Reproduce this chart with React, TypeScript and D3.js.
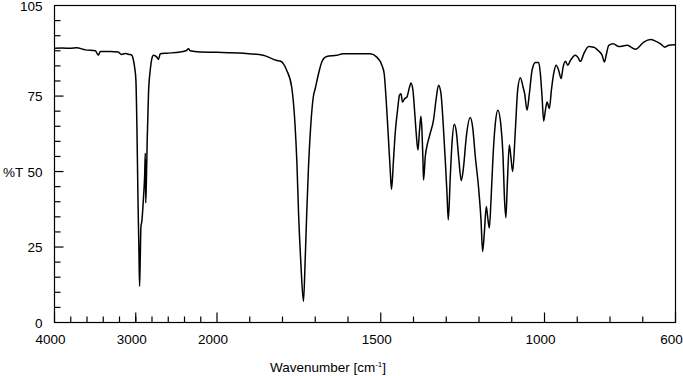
import React from "react";
import * as d3 from "d3";

const wavenumbers = [
  4000, 3902, 3804, 3730, 3620, 3497, 3460, 3436, 3313, 3215, 3178, 3129, 3080, 3047, 3031, 3012, 2998, 2985, 2973, 2961, 2953, 2945, 2936, 2926, 2904, 2890, 2883, 2877, 2869, 2859, 2843, 2822, 2801, 2782, 2740, 2720, 2699, 2617, 2454, 2380, 2352, 2331, 2209, 2000,
  1920, 1859, 1817, 1807, 1787, 1772, 1762, 1756, 1751, 1744, 1736, 1731, 1726, 1721, 1714, 1706, 1700, 1690, 1680, 1665, 1634, 1615, 1554, 1532, 1512,
  1496.5, 1489.5, 1483.4, 1476.3, 1471.1, 1467.2, 1461.1, 1455.9, 1448.8, 1442.7, 1438.4, 1433.5, 1427.4, 1420.1, 1412.1, 1407.9, 1401.7, 1396.8, 1391.7, 1386.5, 1381.6, 1377.3, 1374.2, 1371.2, 1369.3, 1364.1, 1357.1, 1348.9, 1338.8, 1331.4, 1323.5,
  1316.1, 1310, 1303, 1297.8, 1293.8, 1287.7, 1282.5, 1275.5, 1269.4, 1262.3, 1254.1, 1247.1, 1238.8, 1226.6, 1219.5, 1211.3, 1201.2, 1193.9, 1189, 1183.8, 1177.7, 1173.7, 1168.5, 1163.3, 1157.2, 1150.2, 1142.5,
  1132.7, 1126.6, 1122.6, 1118, 1113.5, 1107.4, 1102.8, 1097.3, 1089, 1082, 1073.7, 1065.5, 1060.6, 1053.3, 1046.2, 1038, 1027.9, 1017.8, 1012.6, 1007.4, 1002.5, 997.3, 992.1, 985.1, 979, 972, 964.6, 956.6, 949.3, 943.2, 936.2, 929.1, 920.9, 905.6, 898.6, 890.3, 880.2, 865, 849.6, 834.4, 824, 817, 810.8, 803.8, 790.3, 773.2, 747.5, 722.2, 696.8, 676.3, 661, 645.7, 632.6, 620.4, 605.1, 600,
];

const transmittance = [
  90.8, 90.9, 90.8, 91.0, 90.3, 90.0, 88.5, 89.8, 89.8, 89.6, 88.8, 89.1, 88.8, 88.5, 87.2, 84.2, 80.2, 63.7, 41.6, 24.1, 12.0, 20.8, 31.8, 33.3, 41.7, 48.9, 56.1, 39.6, 47.2, 60.4, 75.9, 83.5, 87.5, 88.5, 87.9, 87.1, 89.0, 89.2, 89.6, 90.0, 90.7, 90.0, 89.6, 89.5,
  89.2, 88.5, 86.8, 86.6, 83.5, 78.0, 66.0, 52.8, 36.3, 19.8, 7.0, 19.8, 36.3, 50.5, 64.8, 74.7, 77.5, 82.4, 86.3, 88.1, 88.5, 89.0, 89.0, 89.0, 87.9,
  85.2, 82.4, 73.6, 60.5, 50.5, 44.1, 53.8, 62.7, 70.3, 75.3, 75.8, 73.0, 74.1, 74.7, 78.0, 79.3, 76.9, 70.3, 62.7, 57.1, 63.7, 68.3, 63.7, 53.8, 47.2, 54.9, 59.3, 62.7, 67.1, 73.6, 78.6,
  75.8, 67.0, 53.8, 42.9, 34.0, 48.3, 59.3, 65.7, 63.3, 55.0, 47.0, 51.6, 61.5, 67.9, 64.8, 55.0, 44.5, 34.0, 23.5, 29.6, 38.4, 35.1, 31.3, 40.6, 55.0, 65.9, 70.3,
  64.8, 55.0, 42.0, 34.7, 46.0, 58.8, 55.0, 50.0, 63.7, 76.9, 81.1, 78.0, 75.8, 70.3, 75.8, 83.5, 86.1, 86.1, 82.4, 74.7, 66.7, 70.3, 73.0, 70.9, 76.9, 82.4, 85.2, 83.5, 80.8, 84.6, 86.5, 85.2, 86.8, 88.5, 87.9, 86.5, 89.0, 91.4, 91.2, 89.9, 88.5, 86.3, 89.0, 91.8, 92.3, 91.4, 91.8, 90.5, 92.9, 93.7, 93.2, 92.3, 91.2, 91.8, 92.0, 92.0,
];

const xMajorTicks = [4000, 3000, 2000, 1500, 1000, 600];
const xMajorLabels = ["4000", "3000", "2000", "1500", "1000", "600"];
const yMajorTicks = [0, 25, 50, 75, 105];
const yMajorLabels = ["0", "25", "50", "75", "105"];

const W = 683;
const H = 376;
const left = 54.5;
const right = 675.5;
const top = 5.5;
const bottom = 322.5;

export default function App() {
  const x = d3.scaleLinear().domain([4000, 2000, 600]).range([left, 217, right]);
  const y = d3.scaleLinear().domain([0, 105]).range([bottom, top]);

  const pts: [number, number][] = wavenumbers.map((w, i) => [x(w), y(transmittance[i])]);
  const line = d3
    .line<[number, number]>()
    .x((d) => d[0])
    .y((d) => d[1])
    .curve(d3.curveMonotoneX);

  const minorX: number[] = [];
  for (let w = 3800; w > 2000; w -= 200) minorX.push(w);
  for (let w = 1900; w > 600; w -= 100) if (w !== 1500 && w !== 1000) minorX.push(w);
  const minorY: number[] = [];
  for (let v = 5; v < 105; v += 5) if (![25, 50, 75].includes(v)) minorY.push(v);

  const font = "Liberation Sans, Arial, sans-serif";

  return (
    <svg width={W} height={H} style={{ position: "absolute", left: 0, top: 0, background: "#fff" }}>
      <rect x={left} y={top} width={right - left} height={bottom - top} fill="none" stroke="#000" strokeWidth={1.2} />
      {minorX.map((w) => (
        <line key={"mx" + w} x1={x(w)} x2={x(w)} y1={bottom} y2={bottom - 6} stroke="#000" strokeWidth={1.2} />
      ))}
      {xMajorTicks.map((w) => (
        <line key={"Mx" + w} x1={x(w)} x2={x(w)} y1={bottom} y2={bottom - 10} stroke="#000" strokeWidth={1.2} />
      ))}
      {minorY.map((v) => (
        <line key={"my" + v} x1={left} x2={left + 6} y1={y(v)} y2={y(v)} stroke="#000" strokeWidth={1.2} />
      ))}
      {[25, 50, 75].map((v) => (
        <line key={"My" + v} x1={left} x2={left + 9} y1={y(v)} y2={y(v)} stroke="#000" strokeWidth={1.2} />
      ))}
      {xMajorTicks.map((w, i) => (
        <text key={"lx" + w} x={x(w) - 4} y={344} textAnchor="middle" fontFamily={font} fontSize={13.5} fill="#000">
          {xMajorLabels[i]}
        </text>
      ))}
      {yMajorTicks.map((v, i) => (
        <text key={"ly" + v} x={42.5} y={y(v) + 5} textAnchor="end" fontFamily={font} fontSize={13.5} fill="#000">
          {yMajorLabels[i]}
        </text>
      ))}
      <text x={3} y={177} fontFamily={font} fontSize={13.5} fill="#000">%T</text>
      <text x={328} y={372} textAnchor="middle" fontFamily={font} fontSize={13.5} fill="#000">
        Wavenumber [cm<tspan dy={-5} fontSize={8}>-1</tspan><tspan dy={5}>]</tspan>
      </text>
      <path d={line(pts) || ""} fill="none" stroke="#000" strokeWidth={1.5} strokeLinejoin="round" />
    </svg>
  );
}
